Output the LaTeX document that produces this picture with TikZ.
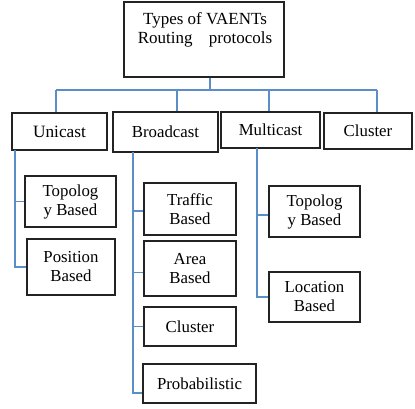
\documentclass[tikz,border=0pt]{standalone}
\usepackage{fontspec}
\setmainfont{Liberation Serif}
\definecolor{linkblue}{RGB}{91,141,199}
\definecolor{boxline}{RGB}{35,35,35}
\begin{document}
\begin{tikzpicture}[x=1pt,y=-1pt,
  box/.style={draw=boxline,line width=1.4pt,inner sep=0pt,align=center,
    font=\fontsize{16.8}{19}\selectfont},
  link/.style={draw=linkblue,line width=1.4pt}]
\useasboundingbox (0,0) rectangle (415,408);
% root
\node[box,minimum width=160,minimum height=75] (root) at (204,39.5) {};
\node[align=center,inner sep=0pt,font=\fontsize{17}{19}\selectfont] (roottext) at (205,30)
  {Types of VAENTs\\Routing\hspace{12pt} protocols};
% level 1
\node[box,minimum width=95,minimum height=37,font=\fontsize{17.3}{20}\selectfont] (uni) at (59.5,131.5) {Unicast};
\node[box,minimum width=105,minimum height=40] (bro) at (165.5,132) {Broadcast};
\node[box,minimum width=99,minimum height=36] (mul) at (270.5,130) {Multicast};
\node[box,minimum width=88,minimum height=36] (clu) at (368,131) {Cluster};
% unicast children
\node[box,minimum width=91,minimum height=51] (topo1) at (70.5,201.5) {Topolog\\y Based};
\node[box,minimum width=88,minimum height=56] (pos) at (71,267) {Position\\Based};
% broadcast children
\node[box,minimum width=92,minimum height=52] (traf) at (190,209) {Traffic\\Based};
\node[box,minimum width=92,minimum height=55] (area) at (190,268.5) {Area\\Based};
\node[box,minimum width=92,minimum height=39] (bclu) at (190,326.5) {Cluster};
\node[box,minimum width=113,minimum height=39] (prob) at (199.5,383.5) {Probabilistic};
% multicast children
\node[box,minimum width=91,minimum height=51] (topo2) at (314.5,211.5) {Topolog\\y Based};
\node[box,minimum width=91,minimum height=50] (loc) at (314.5,297) {Location\\Based};
% junction coordinates
\coordinate (bus) at (210,90);
\coordinate (j1) at (56,90);
\coordinate (j2) at (177,90);
\coordinate (j3) at (269,90);
\coordinate (j4) at (377,90);
\coordinate (ustem) at (15,150);
\coordinate (bstem) at (133,152);
\coordinate (mstem) at (257,148);
% root connectors
\draw[link] (root.south -| bus) -- (bus);
\draw[link] (j1) -- (j4);
\draw[link] (j1) -- (j1 |- uni.north);
\draw[link] (j2) -- (j2 |- bro.north);
\draw[link] (j3) -- (j3 |- mul.north);
\draw[link] (j4) -- (j4 |- clu.north);
% unicast stem
\draw[link] (ustem) |- (topo1.west);
\draw[link] (ustem) |- (pos.west);
% broadcast stem
\draw[link] (bstem) |- ([yshift=-2pt]traf.west);
\draw[link] (bstem) |- ([yshift=-4pt]area.west);
\draw[link] (bstem) |- (bclu.west);
\draw[link] (bstem) |- ([yshift=-9.5pt]prob.west);
% multicast stem
\draw[link] (mstem) |- ([yshift=-3.5pt]topo2.west);
\draw[link] (mstem) |- (loc.west);
\end{tikzpicture}
\end{document}
